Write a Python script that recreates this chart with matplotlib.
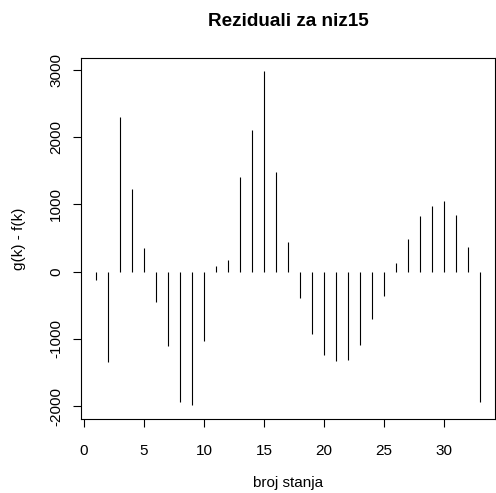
import matplotlib
matplotlib.use("Agg")
from matplotlib import pyplot as plt

# residuals per state
stanje = list(range(1, 34))
reziduali = [-130, -1347, 2292, 1228, 347, -446, -1104, -1941, -1985, -1035,
             89, 173, 1401, 2109, 2975, 1485, 446, -396, -931, -1243,
             -1330, -1312, -1089, -703, -361, 129, 485, 827, 970, 1054,
             842, 361, -1941]
x_ticks = [0, 5, 10, 15, 20, 25, 30]
y_ticks = [-2000, -1000, 0, 1000, 2000, 3000]

plt.rcParams['font.family'] = ['Liberation Sans', 'DejaVu Sans']

W, H = 496, 493
fig = plt.figure(figsize=(W / 100, H / 100), dpi=100)
left, right, top, bottom = 80.6, 495.4, 58.1, 418.6
ax = fig.add_axes([left / W, 1 - bottom / H, (right - left) / W, (bottom - top) / H])

ax.vlines(stanje, 0, reziduali, colors='black', linewidth=0.8)

# R style 4% padding
xr = max(stanje) - min(stanje)
ax.set_xlim(min(stanje) - 0.04 * xr, max(stanje) + 0.04 * xr)
yr = max(reziduali) - min(reziduali)
ax.set_ylim(min(reziduali) - 0.04 * yr, max(reziduali) + 0.04 * yr)

ax.set_xticks(x_ticks)
ax.set_yticks(y_ticks)
ax.set_yticklabels([str(v) for v in y_ticks], rotation=90, va='center')
ax.tick_params(axis='both', direction='out', length=5.5, width=0.8,
               labelsize=11, color='black')
ax.tick_params(axis='x', pad=13)
ax.tick_params(axis='y', pad=7)
for s in ax.spines.values():
    s.set_linewidth(0.8)
    s.set_color('black')

fig.text((left + right) / 2 / W, 1 - 21 / H, "Reziduali za niz15",
         ha='center', va='center', fontsize=13.6, fontweight='bold')
fig.text((left + right) / 2 / W, 1 - 483 / H, "broj stanja",
         ha='center', va='center', fontsize=11)
fig.text(19 / W, 1 - (top + bottom) / 2 / H, "g(k) - f(k)",
         ha='center', va='center', rotation=90, fontsize=11)

fig.savefig("out.png", dpi=100)
